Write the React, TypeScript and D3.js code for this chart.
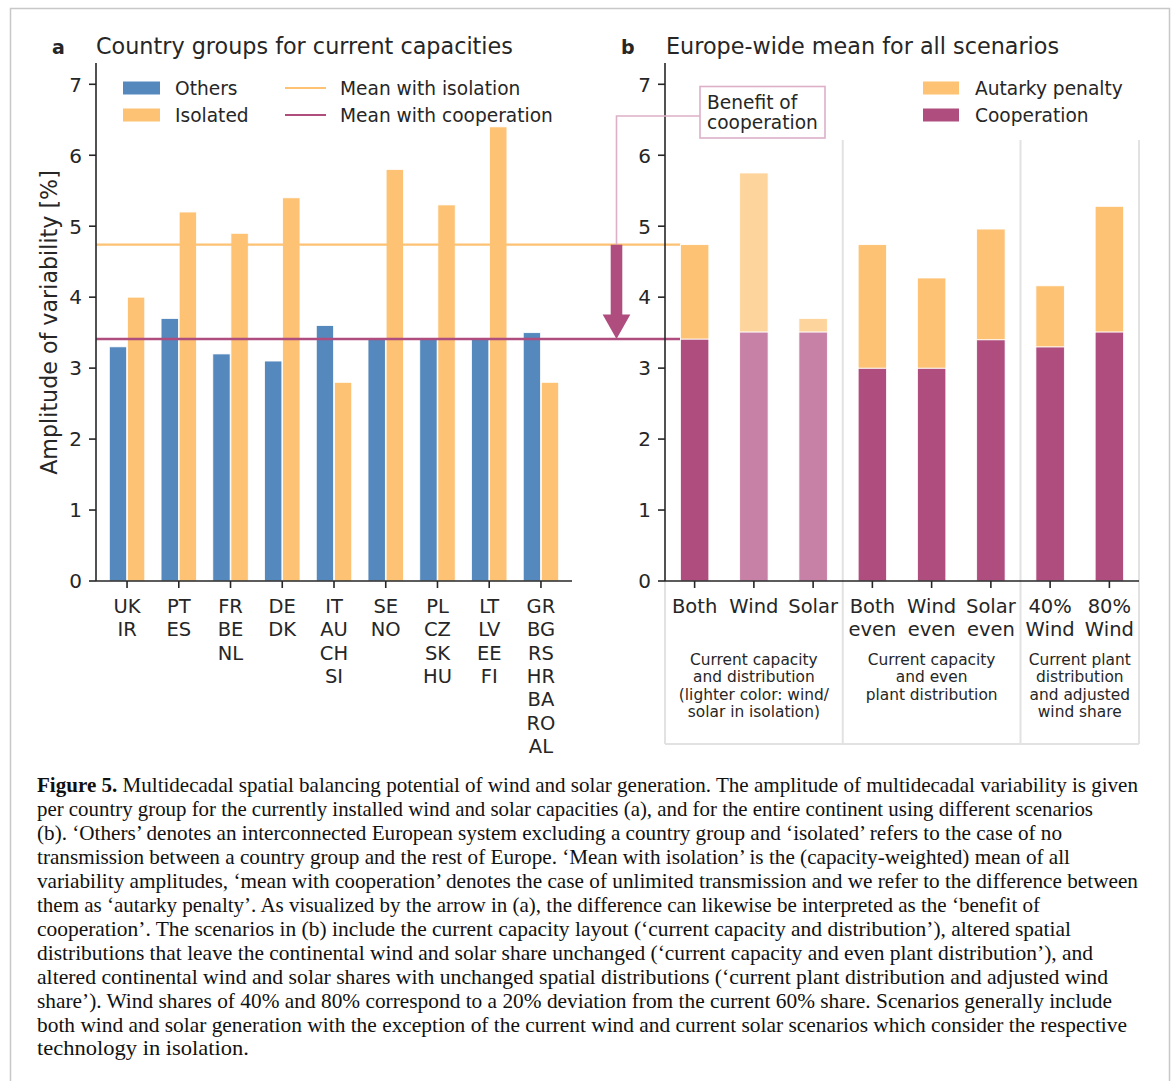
import React from "react";
import * as d3 from "d3";

// ---------- Data ----------
const groupLabels: string[][] = [
  ["UK", "IR"],
  ["PT", "ES"],
  ["FR", "BE", "NL"],
  ["DE", "DK"],
  ["IT", "AU", "CH", "SI"],
  ["SE", "NO"],
  ["PL", "CZ", "SK", "HU"],
  ["LT", "LV", "EE", "FI"],
  ["GR", "BG", "RS", "HR", "BA", "RO", "AL"],
];
const othersValues = [3.3, 3.7, 3.2, 3.1, 3.6, 3.41, 3.41, 3.41, 3.5];
const isolatedValues = [4.0, 5.2, 4.9, 5.4, 2.8, 5.8, 5.3, 6.4, 2.8];
const meanIsolation = 4.74;
const meanCooperation = 3.41;

const scenarioLabels: string[][] = [
  ["Both"],
  ["Wind"],
  ["Solar"],
  ["Both", "even"],
  ["Wind", "even"],
  ["Solar", "even"],
  ["40%", "Wind"],
  ["80%", "Wind"],
];
const cooperationValues = [3.41, 3.51, 3.51, 3.0, 3.0, 3.4, 3.3, 3.51];
const isolationTotals = [4.74, 5.75, 3.7, 4.74, 4.27, 4.96, 4.16, 5.28];
const lighterScenario = [false, true, true, false, false, false, false, false];
const scenarioGroupStarts = [0, 3, 6];
const scenarioGroupEnds = [2, 5, 7];
const scenarioGroupTexts: string[][] = [
  ["Current capacity", "and distribution", "(lighter color: wind/", "solar in isolation)"],
  ["Current capacity", "and even", "plant distribution"],
  ["Current plant", "distribution", "and adjusted", "wind share"],
];
const yTicks = [0, 1, 2, 3, 4, 5, 6, 7];

const captionLines: string[] = [
  " Multidecadal spatial balancing potential of wind and solar generation. The amplitude of multidecadal variability is given",
  "per country group for the currently installed wind and solar capacities (a), and for the entire continent using different scenarios",
  "(b). \u2018Others\u2019 denotes an interconnected European system excluding a country group and \u2018isolated\u2019 refers to the case of no",
  "transmission between a country group and the rest of Europe. \u2018Mean with isolation\u2019 is the (capacity-weighted) mean of all",
  "variability amplitudes, \u2018mean with cooperation\u2019 denotes the case of unlimited transmission and we refer to the difference between",
  "them as \u2018autarky penalty\u2019. As visualized by the arrow in (a), the difference can likewise be interpreted as the \u2018benefit of",
  "cooperation\u2019. The scenarios in (b) include the current capacity layout (\u2018current capacity and distribution\u2019), altered spatial",
  "distributions that leave the continental wind and solar share unchanged (\u2018current capacity and even plant distribution\u2019), and",
  "altered continental wind and solar shares with unchanged spatial distributions (\u2018current plant distribution and adjusted wind",
  "share\u2019). Wind shares of 40% and 80% correspond to a 20% deviation from the current 60% share. Scenarios generally include",
  "both wind and solar generation with the exception of the current wind and current solar scenarios which consider the respective",
  "technology in isolation.",
];
// rendered widths of the caption lines (layout only)
const captionLineWidths = [1101, 1056, 1025, 1033, 1101, 1003, 1034, 1056, 1071, 1075, 1090, 212];

// ---------- Styles ----------
const FONT = "DejaVu Sans, sans-serif";
const SERIF = "Liberation Serif, Times New Roman, serif";
const TXT = "#262626";
const BLUE = "#5589bd";
const ORANGE = "#fdc273";
const ORANGE_LIGHT = "#fdd49b";
const PURPLE = "#ae4d7e";
const PURPLE_LIGHT = "#c781a6";
const PINK = "#ddb0c8";
const GRID = "#e2e2e2";

export default function App() {
  const y0 = 581;
  const yTop = 63;
  const y = d3.scaleLinear().domain([0, 7.3]).range([y0, yTop]);

  // panel a
  const ax0 = 96;
  const ax1 = 572;
  const xa = d3.scaleLinear().domain([-0.6, groupLabels.length - 0.4]).range([ax0, ax1]);
  const unitA = xa(1) - xa(0);
  const barW = 0.335 * unitA;
  const off = 0.175 * unitA;

  // panel b
  const bx0 = 665;
  const bx1 = 1139;
  const xb = d3.scaleLinear().domain([-0.5, scenarioLabels.length - 0.5]).range([bx0, bx1]);
  const unitB = xb(1) - xb(0);
  const barWB = 0.48 * unitB;

  const arrowX = 616.5;
  const yIso = y(meanIsolation);
  const yCoop = y(meanCooperation);
  const shaftW = 11.6;
  const headW = 27.7;
  const headL = 24.5;

  const lineEndX = xb(0) - barWB / 2;

  return (
    <svg
      width={1173}
      height={1081}
      style={{ position: "absolute", left: 0, top: 0, background: "#fff" }}
      fontFamily={FONT}
    >
      {/* frame */}
      <path d="M10.5,1081 V8.5 H1169.5 V1081" fill="none" stroke="#c8c8c8" strokeWidth={1.5} />

      {/* ===== Panel a ===== */}
      <text x={52} y={54} fontSize={19} fontWeight="bold" fill={TXT}>a</text>
      <text x={96} y={54} fontSize={22.3} fill={TXT}>Country groups for current capacities</text>

      {groupLabels.map((_, i) => (
        <g key={"ba" + i}>
          <rect
            x={xa(i) - off - barW / 2}
            y={y(othersValues[i])}
            width={barW}
            height={y0 - y(othersValues[i])}
            fill={BLUE}
            stroke="#fff"
            strokeWidth={0.8}
          />
          <rect
            x={xa(i) + off - barW / 2}
            y={y(isolatedValues[i])}
            width={barW}
            height={y0 - y(isolatedValues[i])}
            fill={ORANGE}
            stroke="#fff"
            strokeWidth={0.8}
          />
        </g>
      ))}

      {/* mean lines */}
      <line x1={ax0} x2={lineEndX} y1={yIso} y2={yIso} stroke={ORANGE} strokeWidth={2.2} />
      <line x1={ax0} x2={lineEndX} y1={yCoop} y2={yCoop} stroke={PURPLE} strokeWidth={2.4} />

      {/* axes a */}
      <line x1={ax0} x2={ax0} y1={yTop} y2={y0} stroke={TXT} strokeWidth={1.6} />
      <line x1={ax0} x2={ax1} y1={y0} y2={y0} stroke={TXT} strokeWidth={1.6} />
      {yTicks.map((t) => (
        <g key={"ya" + t}>
          <line x1={ax0 - 7} x2={ax0} y1={y(t)} y2={y(t)} stroke={TXT} strokeWidth={1.6} />
          <text x={ax0 - 14} y={y(t) + 7.3} fontSize={20} textAnchor="end" fill={TXT}>{t}</text>
        </g>
      ))}
      {groupLabels.map((lines, i) => (
        <g key={"xa" + i}>
          <line x1={xa(i)} x2={xa(i)} y1={y0} y2={y0 + 7} stroke={TXT} strokeWidth={1.6} />
          {lines.map((l, j) => (
            <text key={j} x={xa(i)} y={613 + j * 23.3} fontSize={19.5} textAnchor="middle" fill={TXT}>{l}</text>
          ))}
        </g>
      ))}
      <text
        transform={`translate(57,322.5) rotate(-90)`}
        fontSize={22.2}
        textAnchor="middle"
        fill={TXT}
      >
        Amplitude of variability [%]
      </text>

      {/* legend a */}
      <rect x={123} y={81.5} width={37} height={13} fill={BLUE} />
      <text x={175} y={94.8} fontSize={18.6} fill={TXT}>Others</text>
      <rect x={123} y={108.5} width={37} height={13} fill={ORANGE} />
      <text x={175} y={121.8} fontSize={18.6} fill={TXT}>Isolated</text>
      <line x1={285} x2={326} y1={88} y2={88} stroke={ORANGE} strokeWidth={2.2} />
      <text x={340} y={94.8} fontSize={18.6} fill={TXT}>Mean with isolation</text>
      <line x1={285} x2={326} y1={115} y2={115} stroke={PURPLE} strokeWidth={2.2} />
      <text x={340} y={121.8} fontSize={18.6} fill={TXT}>Mean with cooperation</text>

      {/* ===== Panel b ===== */}
      <text x={621} y={54} fontSize={19} fontWeight="bold" fill={TXT}>b</text>
      <text x={666} y={54} fontSize={22.3} fill={TXT}>Europe-wide mean for all scenarios</text>

      {/* group separators */}
      {scenarioGroupEnds.map((e, k) => (
        <line
          key={"sep" + k}
          x1={xb(e + 0.5)}
          x2={xb(e + 0.5)}
          y1={140}
          y2={744}
          stroke={GRID}
          strokeWidth={2}
        />
      ))}
      <line x1={bx0} x2={bx0} y1={y0} y2={744} stroke={GRID} strokeWidth={2} />
      <line x1={bx0} x2={bx1} y1={744} y2={744} stroke={GRID} strokeWidth={2} />

      {scenarioLabels.map((_, i) => (
        <g key={"bb" + i}>
          <rect
            x={xb(i) - barWB / 2}
            y={y(cooperationValues[i])}
            width={barWB}
            height={y0 - y(cooperationValues[i])}
            fill={lighterScenario[i] ? PURPLE_LIGHT : PURPLE}
            stroke="#fff"
            strokeWidth={0.8}
          />
          <rect
            x={xb(i) - barWB / 2}
            y={y(isolationTotals[i])}
            width={barWB}
            height={y(cooperationValues[i]) - y(isolationTotals[i])}
            fill={lighterScenario[i] ? ORANGE_LIGHT : ORANGE}
            stroke="#fff"
            strokeWidth={0.8}
          />
        </g>
      ))}

      {/* axes b */}
      <line x1={bx0} x2={bx0} y1={yTop} y2={y0} stroke={TXT} strokeWidth={1.6} />
      <line x1={bx0} x2={bx1} y1={y0} y2={y0} stroke={TXT} strokeWidth={1.6} />
      {yTicks.map((t) => (
        <g key={"yb" + t}>
          <line x1={bx0 - 7} x2={bx0} y1={y(t)} y2={y(t)} stroke={TXT} strokeWidth={1.6} />
          <text x={bx0 - 14} y={y(t) + 7.3} fontSize={20} textAnchor="end" fill={TXT}>{t}</text>
        </g>
      ))}
      {scenarioLabels.map((lines, i) => (
        <g key={"xb" + i}>
          <line x1={xb(i)} x2={xb(i)} y1={y0} y2={y0 + 7} stroke={TXT} strokeWidth={1.6} />
          {lines.map((l, j) => (
            <text key={j} x={xb(i)} y={613 + j * 23} fontSize={19.5} textAnchor="middle" fill={TXT}>{l}</text>
          ))}
        </g>
      ))}
      {scenarioGroupTexts.map((lines, k) => {
        const cx = (xb(scenarioGroupStarts[k] - 0.5) + xb(scenarioGroupEnds[k] + 0.5)) / 2;
        return (
          <g key={"gt" + k}>
            {lines.map((l, j) => (
              <text key={j} x={cx} y={665 + j * 17.3} fontSize={15.4} textAnchor="middle" fill={TXT}>{l}</text>
            ))}
          </g>
        );
      })}

      {/* legend b */}
      <rect x={923} y={81.5} width={36} height={13} fill={ORANGE} />
      <text x={975} y={94.8} fontSize={18.6} fill={TXT}>Autarky penalty</text>
      <rect x={923} y={108.5} width={36} height={13} fill={PURPLE} />
      <text x={975} y={121.8} fontSize={18.6} fill={TXT}>Cooperation</text>

      {/* benefit of cooperation annotation */}
      <path
        d={`M${arrowX},${yIso} V116 H700`}
        fill="none"
        stroke={PINK}
        strokeWidth={1.6}
      />
      <rect x={700} y={86.5} width={125} height={51.5} fill="#fff" stroke={PINK} strokeWidth={1.6} />
      <text x={707} y={108.5} fontSize={18.6} fill={TXT}>Benefit of</text>
      <text x={707} y={129} fontSize={18.6} fill={TXT}>cooperation</text>
      <path
        d={`M${arrowX - shaftW / 2},${yIso} H${arrowX + shaftW / 2} V${yCoop - headL} H${arrowX + headW / 2} L${arrowX},${yCoop} L${arrowX - headW / 2},${yCoop - headL} H${arrowX - shaftW / 2} Z`}
        fill={PURPLE}
      />

      {/* caption */}
      <g fontFamily={SERIF} fontSize={20.2} fill="#111">
        {captionLines.map((l, i) => (
          <text
            key={i}
            x={37}
            y={792 + i * 23.95}
            textLength={captionLineWidths[i]}
            lengthAdjust="spacingAndGlyphs"
          >
            {i === 0 ? <tspan fontWeight="bold">Figure 5.</tspan> : null}
            {l}
          </text>
        ))}
      </g>
    </svg>
  );
}
